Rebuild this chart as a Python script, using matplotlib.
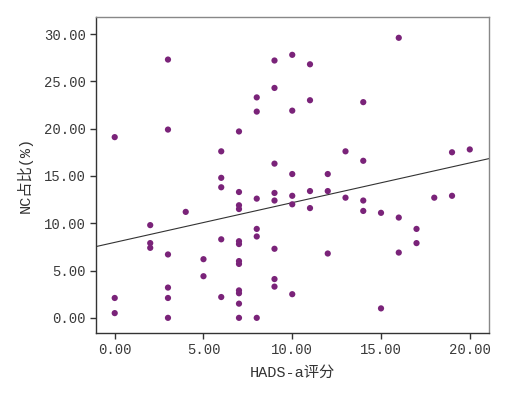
import numpy as np
import matplotlib
matplotlib.use("Agg")
import matplotlib.pyplot as plt

plt.rcParams['font.family'] = ['Liberation Mono', 'Noto Sans CJK SC']

# HADS-a score and NC proportion (%) per subject
hads_x = [0, 0, 0,
          2, 2, 2,
          3, 3, 3, 3, 3, 3,
          4,
          5, 5,
          6, 6, 6, 6, 6,
          7, 7, 7, 7, 7, 7, 7, 7, 7, 7, 7, 7,
          8, 8, 8, 8, 8, 8,
          9, 9, 9, 9, 9, 9, 9, 9,
          10, 10, 10, 10, 10, 10,
          11, 11, 11, 11,
          12, 12, 12,
          13, 13,
          14, 14, 14, 14,
          15, 15,
          16, 16, 16,
          17, 17,
          18,
          19, 19,
          20]
nc_pct = [19.1, 2.1, 0.5,
          9.8, 7.9, 7.4,
          27.3, 19.9, 6.7, 3.2, 2.1, 0.0,
          11.2,
          6.2, 4.4,
          17.6, 14.8, 13.8, 8.3, 2.2,
          19.7, 13.3, 11.9, 11.5, 8.1, 7.8, 6.0, 5.7, 2.9, 2.6, 1.5, 0.0,
          23.3, 21.8, 12.6, 9.4, 8.6, 0.0,
          27.2, 24.3, 16.3, 13.2, 12.4, 7.3, 4.1, 3.3,
          27.8, 21.9, 15.2, 12.9, 12.0, 2.5,
          26.8, 23.0, 13.4, 11.6,
          15.2, 13.4, 6.8,
          17.6, 12.7,
          22.8, 16.6, 12.4, 11.3,
          11.1, 1.0,
          29.6, 10.6, 6.9,
          9.4, 7.9,
          12.7,
          17.5, 12.9,
          17.8]

x_ticks = [0, 5, 10, 15, 20]
y_ticks = [0, 5, 10, 15, 20, 25, 30]
x_label = "HADS-a评分"
y_label = "NC占比(%)"

fig = plt.figure(figsize=(5.25, 3.95), dpi=100)
ax = fig.add_axes([0.183, 0.157, 0.748, 0.8])

ax.scatter(hads_x, nc_pct, s=20, color='#7A2379', edgecolors='none', zorder=3)

xlim = (-1.05, 21.07)
slope, intercept = np.polyfit(hads_x, nc_pct, 1)
xx = np.array(xlim)
ax.plot(xx, intercept + slope * xx, color='#333333', lw=0.8, zorder=2)

ax.set_xlim(*xlim)
ax.set_ylim(-1.6, 31.8)
ax.set_xticks(x_ticks)
ax.set_xticklabels([f"{v:.2f}" for v in x_ticks])
ax.set_yticks(y_ticks)
ax.set_yticklabels([f"{v:.2f}" for v in y_ticks])
ax.tick_params(direction='out', length=4, width=1, labelsize=10,
               colors='#333333', labelcolor='#3a3a3a')
ax.set_xlabel(x_label, fontsize=11, labelpad=6, color='#333333')
ax.set_ylabel(y_label, fontsize=11, labelpad=8, color='#333333')

for side in ['left', 'bottom']:
    ax.spines[side].set_color('#333333')
    ax.spines[side].set_linewidth(1.0)
for side in ['top', 'right']:
    ax.spines[side].set_color('#888888')
    ax.spines[side].set_linewidth(1.0)

fig.savefig("out.png", dpi=100, facecolor='white')
